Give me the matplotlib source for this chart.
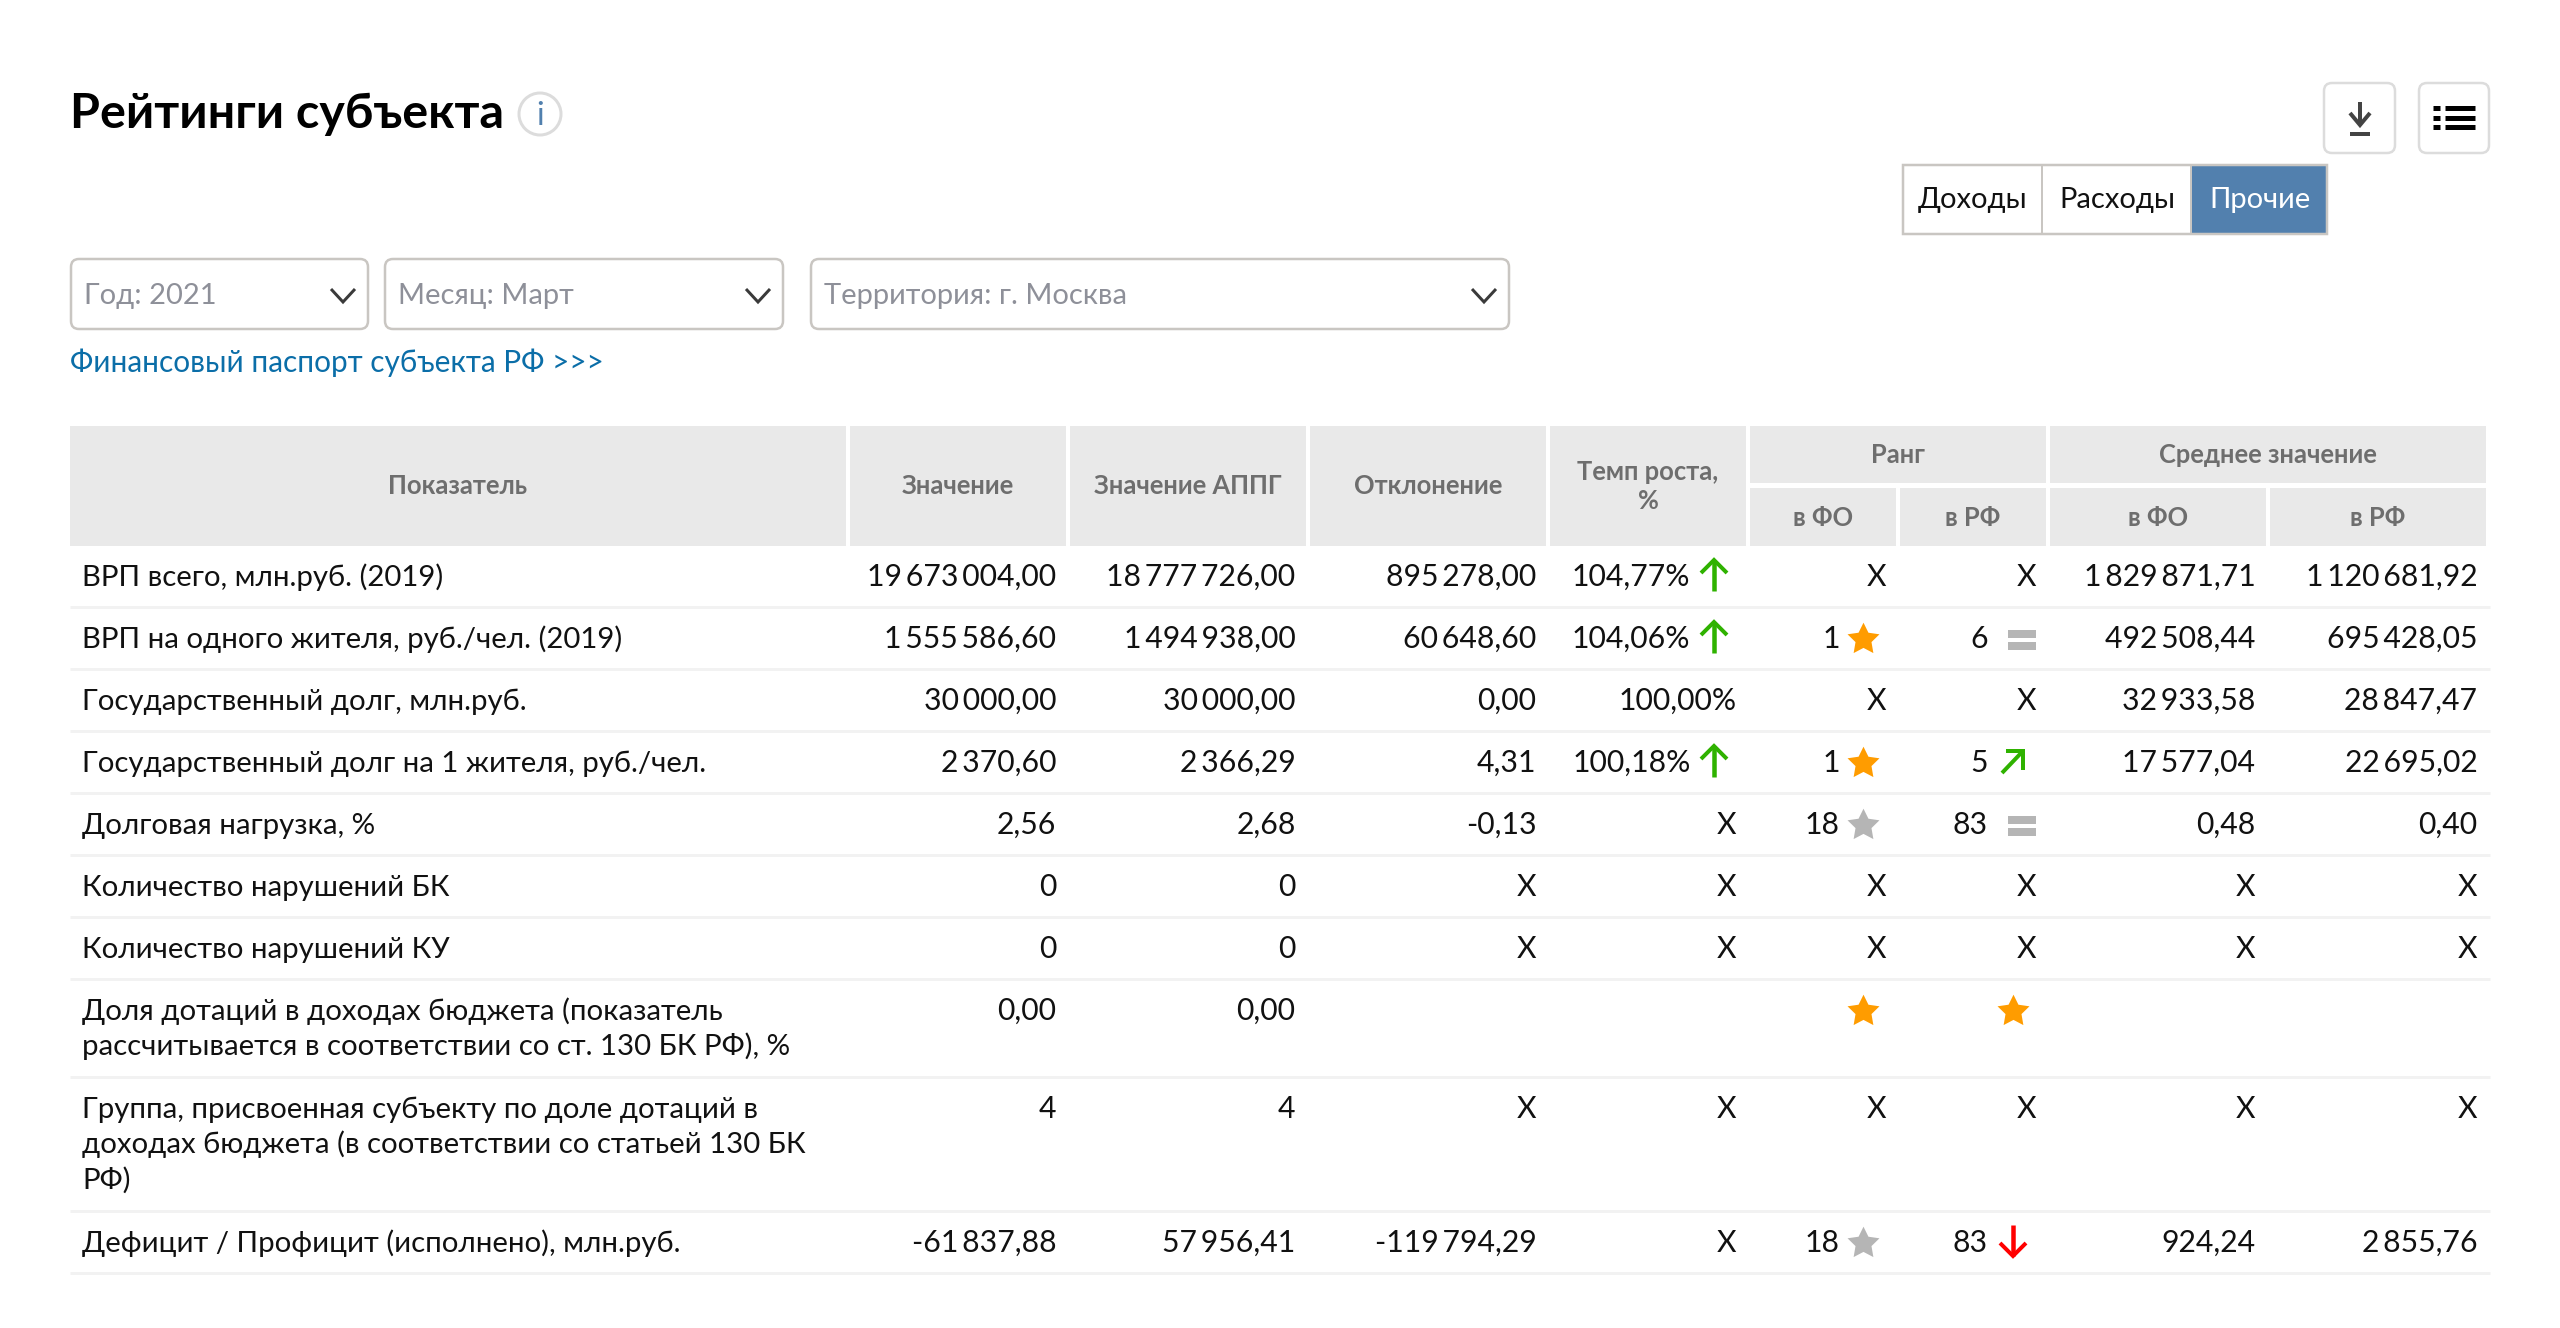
import matplotlib
matplotlib.use("Agg")
import matplotlib.pyplot as plt
from matplotlib.patches import Rectangle, FancyBboxPatch, Circle
from matplotlib.path import Path

plt.rcParams['font.family'] = ['Lato', 'Roboto', 'DejaVu Sans']

#Table contents, top to bottom
row_names = ['ВРП всего, млн.руб. (2019)',
             'ВРП на одного жителя, руб./чел. (2019)',
             'Государственный долг, млн.руб.',
             'Государственный долг на 1 жителя, руб./чел.',
             'Долговая нагрузка, %',
             'Количество нарушений БК',
             'Количество нарушений КУ',
             'Доля дотаций в доходах бюджета (показатель\nрассчитывается в соответствии со ст. 130 БК РФ), %',
             'Группа, присвоенная субъекту по доле дотаций в\nдоходах бюджета (в соответствии со статьей 130 БК\nРФ)',
             'Дефицит / Профицит (исполнено), млн.руб.']
value = ['19\u2009673\u2009004,00', '1\u2009555\u2009586,60', '30\u2009000,00', '2\u2009370,60', '2,56', '0', '0', '0,00', '4', '-61\u2009837,88']
value_appg = ['18\u2009777\u2009726,00', '1\u2009494\u2009938,00', '30\u2009000,00', '2\u2009366,29', '2,68', '0', '0', '0,00', '4', '57\u2009956,41']
deviation = ['895\u2009278,00', '60\u2009648,60', '0,00', '4,31', '-0,13', 'X', 'X', '', 'X', '-119\u2009794,29']
growth = ['104,77%', '104,06%', '100,00%', '100,18%', 'X', 'X', 'X', '', 'X', 'X']
rank_fo = ['X', '1', 'X', '1', '18', 'X', 'X', '', 'X', '18']
rank_rf = ['X', '6', 'X', '5', '83', 'X', 'X', '', 'X', '83']
avg_fo = ['1\u2009829\u2009871,71', '492\u2009508,44', '32\u2009933,58', '17\u2009577,04', '0,48', 'X', 'X', '', 'X', '924,24']
avg_rf = ['1\u2009120\u2009681,92', '695\u2009428,05', '28\u2009847,47', '22\u2009695,02', '0,40', 'X', 'X', '', 'X', '2\u2009855,76']

#Icons next to the numbers
growth_icon = ['up', 'up', None, 'up', None, None, None, None, None, None]
rank_fo_icon = [None, 'gold', None, 'gold', 'grey', None, None, 'gold', None, 'grey']
rank_rf_icon = [None, 'eq', None, 'ne', 'eq', None, None, 'gold', None, 'down']

filters = ['Год: 2021', 'Месяц: Март', 'Территория: г. Москва']
tabs = ['Доходы', 'Расходы', 'Прочие']

#Layout in pixels
W, H = 2560, 1328
LABEL_FS = 21.2
NUM_FS = 21.7
UI_FS = 21
HFS = 18.4
TXT = '#111111'
HEAD_BG = '#e9e9e9'
HEAD_TXT = '#6e6e6e'
LINE = '#f2f2f2'
GREEN = '#2fb200'
RED = '#ff0000'
ORANGE = '#ff9c00'
GREY = '#b5b5b5'
BORDER = '#c9c6c2'
STAR = Path.unit_regular_star(5, innerCircle=0.5)

fig = plt.figure(figsize=(W / 100, H / 100), dpi=100)
ax = fig.add_axes([0, 0, 1, 1])
ax.set_xlim(0, W)
ax.set_ylim(H, 0)
ax.axis('off')


def px(w):
	return w * 0.72


def box(x0, y0, x1, y1, edge, lw=2.5, r=8, fill='white'):
	ax.add_patch(FancyBboxPatch((x0 + r, y0 + r), x1 - x0 - 2 * r, y1 - y0 - 2 * r,
		boxstyle='round,pad=%d,rounding_size=%d' % (r, r), fc=fill, ec=edge, lw=px(lw)))


def seg(xs, ys, color, lw, cap='butt'):
	ax.plot(xs, ys, color=color, lw=px(lw), solid_capstyle=cap, solid_joinstyle='miter')


def rect(x0, y0, x1, y1, color):
	ax.add_patch(Rectangle((x0, y0), x1 - x0, y1 - y0, fc=color, ec='none'))


#Title part
ax.text(70, 128, 'Рейтинги субъекта', fontsize=34.9, fontweight='bold', color='black', va='baseline')
ax.add_patch(Circle((540, 114), 21, fc='white', ec='#dcdcdc', lw=px(3)))
ax.text(540, 125, 'i', fontsize=23, color='#5180ae', ha='center', va='baseline')

#Buttons top right
box(2324, 83, 2395, 153, '#dcdcdc')
box(2419, 83, 2489, 153, '#dcdcdc')
seg([2360, 2360], [102, 125], '#444444', 4)
seg([2350, 2360, 2370], [113, 125, 113], '#444444', 4)
seg([2350, 2370], [134, 134], '#444444', 4)
for yy in [108, 118, 127]:
	seg([2433, 2440], [yy, yy], 'black', 5)
	seg([2445, 2475], [yy, yy], 'black', 5)

#Tabs
tab_edges = [1902, 2042, 2191, 2327]
rect(tab_edges[2], 164, tab_edges[3], 235, '#5280ae')
ax.add_patch(Rectangle((1903, 165), 424, 69, fc='none', ec=BORDER, lw=px(2.5)))
seg([2042, 2042], [165, 234], BORDER, 2)
seg([2191, 2191], [165, 234], BORDER, 2)
for i, name in enumerate(tabs):
	ax.text((tab_edges[i] + tab_edges[i + 1]) / 2 + 1, 208, name, fontsize=UI_FS,
		color='white' if i == 2 else TXT, ha='center', va='baseline')

#Filters
filter_boxes = [(71, 368), (385, 783), (811, 1509)]
for (x0, x1), name in zip(filter_boxes, filters):
	box(x0, 259, x1, 329, BORDER)
	ax.text(x0 + 13, 304, name, fontsize=UI_FS, color='#8e9099', va='baseline')
	seg([x1 - 37, x1 - 25, x1 - 13], [289, 302, 289], '#3a3a3a', 3)
ax.text(70, 372, 'Финансовый паспорт субъекта РФ >>>', fontsize=21.4, color='#0b6ea8', va='baseline')

#Table header
head_cells = [(70, 846, 426, 546), (850, 1066, 426, 546), (1070, 1306, 426, 546), (1310, 1546, 426, 546),
	(1550, 1746, 426, 546), (1750, 2046, 426, 483), (1750, 1896, 488, 546), (1900, 2046, 488, 546),
	(2050, 2486, 426, 483), (2050, 2266, 488, 546), (2270, 2486, 488, 546)]
for x0, x1, y0, y1 in head_cells:
	rect(x0, y0, x1, y1, HEAD_BG)
head_labels = [('Показатель', 458, 494), ('Значение', 958, 494), ('Значение АППГ', 1188, 494), ('Отклонение', 1428, 494),
	('Темп роста,', 1648, 480), ('%', 1648, 509), ('Ранг', 1898, 463), ('в ФО', 1823, 526), ('в РФ', 1973, 526),
	('Среднее значение', 2268, 463), ('в ФО', 2158, 526), ('в РФ', 2378, 526)]
for name, x, y in head_labels:
	ax.text(x, y, name, fontsize=HFS, fontweight='bold', color=HEAD_TXT, ha='center', va='baseline')

#Table rows: top of each row and the line under it
row_tops = [545, 607, 669, 731, 793, 855, 917, 979, 1077, 1211]
row_bottoms = row_tops[1:] + [1273]
for y in row_bottoms:
	seg([70, 2490], [y, y], LINE, 3)


def star(x, y, color):
	ax.scatter([x], [y + 2], s=585, marker=STAR, color=color, linewidths=0, zorder=3)


def icon(kind, x, y):
	if kind == 'gold':
		star(x, y, ORANGE)
	elif kind == 'grey':
		star(x, y, GREY)
	elif kind == 'eq':
		rect(x - 5, y - 7, x + 23, y + 1, GREY)
		rect(x - 5, y + 5, x + 23, y + 13, GREY)
	elif kind == 'up':
		seg([x, x], [y - 15, y + 16], GREEN, 4.5)
		seg([x - 13, x, x + 13], [y - 2, y - 15, y - 2], GREEN, 4)
	elif kind == 'down':
		seg([x, x], [y - 16, y + 15], RED, 4.5)
		seg([x - 13, x, x + 13], [y + 2, y + 15, y + 2], RED, 4)
	elif kind == 'ne':
		seg([x - 11, x + 10], [y + 12, y - 10], GREEN, 4)
		seg([x - 7, x + 10, x + 10], [y - 10, y - 10, y + 9], GREEN, 4)


#right edge of plain text, right edge beside an icon, icon centre, icon column
num_cols = [(value, 1056.5, None, None, None), (value_appg, 1295.5, None, None, None), (deviation, 1536.5, None, None, None),
	(growth, 1736.5, 1690.5, 1714, growth_icon), (rank_fo, 1886.5, 1840, 1863, rank_fo_icon),
	(rank_rf, 2036.5, 1988, 2013, rank_rf_icon), (avg_fo, 2255.5, None, None, None), (avg_rf, 2477.5, None, None, None)]

for r, name in enumerate(row_names):
	base = row_tops[r] + 41
	for k, line in enumerate(name.split('\n')):
		ax.text(82, base + 35.5 * k, line, fontsize=LABEL_FS, color=TXT, va='baseline')
	mid = base - 11
	for vals, right, right_icon, icon_x, icons in num_cols:
		kind = icons[r] if icons else None
		ax.text(right_icon if kind else right, base, vals[r], fontsize=NUM_FS, color=TXT, ha='right', va='baseline')
		if kind:
			icon(kind, icon_x, mid)

fig.savefig('out.png', dpi=100, facecolor='white')
